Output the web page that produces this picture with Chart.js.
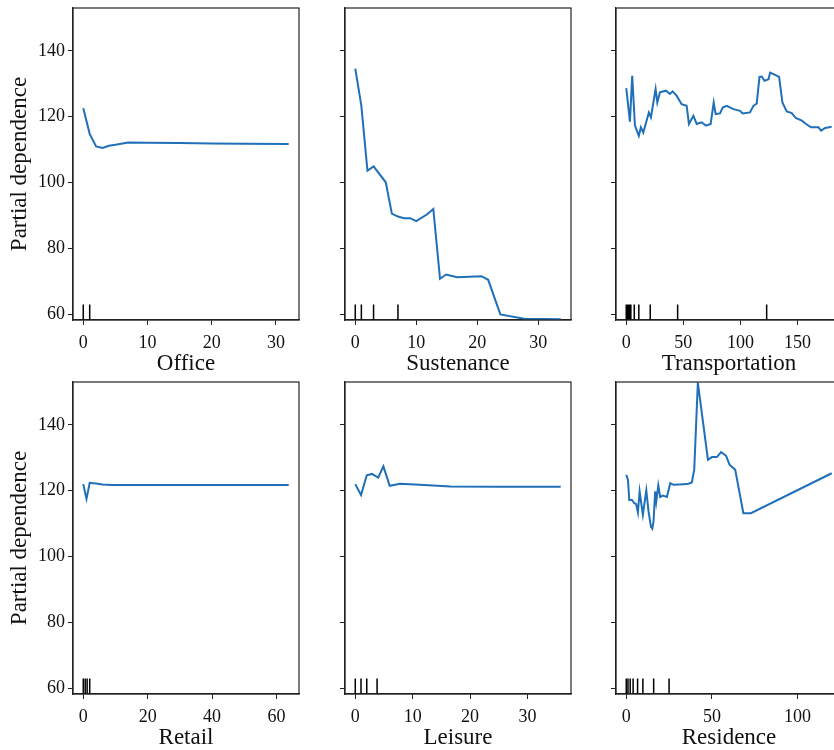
<!DOCTYPE html>
<html>
<head>
<meta charset="utf-8">
<script src="https://cdn.jsdelivr.net/npm/chart.js@4"></script>
<style>
  body { margin: 0; background: #fff; }
  #fig { position: relative; width: 834px; height: 750px; overflow: hidden; background: #fff; }
  #fig canvas { position: absolute; }
</style>
</head>
<body>
<div id="fig"></div>
<script>
// partial dependence values
const officeX = [0, 1, 2, 3, 4, 5, 7, 10, 15, 20, 25, 32];
const officeY = [122.6, 114.8, 111.0, 110.5, 111.2, 111.5, 112.2, 112.1, 112.0, 111.9, 111.8, 111.7];
const officeDeciles = [0, 1];

const sustenanceX = [0, 1, 2, 3, 5, 6, 7, 8, 9, 10, 11.8, 12.8, 13.9, 14.9, 16.7, 20.7, 21.8, 23.8, 27.7, 33.7];
const sustenanceY = [134.6, 123.3, 103.6, 104.9, 100.1, 90.6, 89.7, 89.2, 89.2, 88.3, 90.4, 92.0, 70.8, 72.1, 71.3, 71.6, 70.5, 60.0, 58.7, 58.5];
const sustenanceDeciles = [0, 1, 3, 7];

const transportX = [0, 3.2, 5.2, 7.6, 11, 12.8, 14.9, 19.8, 21.6, 25.7, 27.2, 29.5, 34.7, 38.2, 40.6, 44.1, 48.5, 52.9, 54.9, 58.8,
  61.7, 66, 69.8, 73.9, 76.6, 78.3, 82.1, 84.5, 88, 93.9, 99.6, 102, 108.4, 111.4, 114.3, 116.7, 118.7, 121.1, 124.6, 126,
  130.4, 133.9, 136.8, 140.6, 145, 148.5, 153.8, 157.5, 161.9, 168.4, 170.7, 174.2, 177.7, 180];
const transportY = [128.7, 118.5, 132.4, 117.3, 114.2, 116.8, 115.2, 121.3, 119.8, 128.4, 124.3, 127.4, 127.9, 126.9, 127.7, 126.4, 123.8, 123.3, 117.8, 120.3,
  117.8, 118.3, 117.3, 117.8, 124.3, 120.8, 121.0, 122.8, 123.3, 122.3, 121.8, 121.0, 121.3, 123.3, 124.0, 132.1, 132.2, 130.9, 131.4, 133.4,
  132.7, 132.1, 124.3, 121.6, 121.1, 119.6, 118.8, 117.8, 116.8, 116.8, 115.8, 116.6, 116.8, 117.0];
const transportDeciles = [0, 1, 2, 3, 4, 7, 11, 21, 45, 123];

const retailX = [0, 1, 2, 3, 4, 6, 9, 15, 30, 45, 63.8];
const retailY = [122.0, 117.5, 122.4, 122.3, 122.2, 121.9, 121.7, 121.7, 121.7, 121.7, 121.7];
const retailDeciles = [0, 0.6, 1.2, 2];

const leisureX = [0, 1, 2, 2.9, 4, 4.9, 6, 7.8, 12, 16.6, 25, 35.8];
const leisureY = [122.0, 118.7, 124.7, 125.1, 124.0, 127.4, 121.5, 122.1, 121.7, 121.3, 121.2, 121.2];
const leisureDeciles = [0, 1, 2, 3.8];

const residenceX = [0, 1, 1.75, 3.3, 4.7, 5.8, 6.8, 7.8, 8.75, 9.7, 10.5, 11.7, 13, 14.4, 15.2, 15.9, 16.9, 17.5, 18.7, 19.8,
  21.4, 23.7, 25.7, 27.6, 33.4, 36.3, 38.3, 39.7, 41.8, 47.7, 50, 52.9, 55.4, 58.3, 60.3, 63.6, 68.4, 72.8, 120];
const residenceY = [124.8, 123.3, 117.2, 117.2, 116.2, 115.9, 113.4, 119.8, 116.2, 112.7, 115.7, 120.1, 113.7, 109.1, 108.5, 110.6, 119.8, 116.7, 121.6, 118.1,
  118.5, 118.1, 122.3, 121.8, 122.0, 122.1, 122.5, 126.4, 152.8, 129.4, 130.2, 130.2, 131.7, 130.6, 127.9, 126.4, 113.2, 113.2, 125.3];
const residenceDeciles = [0, 1, 2.3, 4, 6.6, 9.7, 16, 25];

const yTicks = [60, 80, 100, 120, 140];
const yMin = 58.3, yMax = 153.0;

const FONT = "'Liberation Serif', 'Times New Roman', serif";
const INK = '#222';

// outline the whole axes box (Chart.js only draws left/bottom)
const boxPlugin = {
  id: 'box',
  afterDraw(chart) {
    const a = chart.chartArea, ctx = chart.ctx;
    ctx.save();
    ctx.strokeStyle = INK;
    ctx.lineWidth = 1.2;
    ctx.strokeRect(a.left, a.top, a.right - a.left, a.bottom - a.top);
    ctx.restore();
  }
};

function makePanel(p) {
  const areaW = 226, areaH = 312, xAxisH = 58;
  const canvas = document.createElement('canvas');
  canvas.width = 73 + areaW + 3;
  canvas.height = 8 + areaH + xAxisH;
  canvas.style.left = (p.left - 73) + 'px';
  canvas.style.top = (p.top - 8) + 'px';
  document.getElementById('fig').appendChild(canvas);

  const lo = Math.min(...p.xs), hi = Math.max(...p.xs);
  const pad = (hi - lo) * 0.05;

  const curve = p.xs.map((x, i) => ({ x: x, y: p.ys[i] }));
  const rugTop = yMin + 0.05 * (yMax - yMin);
  const rug = [];
  p.deciles.forEach(d => {
    rug.push({ x: d, y: yMin }, { x: d, y: rugTop }, { x: d, y: null });
  });

  new Chart(canvas, {
    type: 'line',
    data: {
      datasets: [
        { data: rug, borderColor: '#000', borderWidth: 1.5, pointRadius: 0, spanGaps: false },
        { data: curve, borderColor: '#1f70b8', borderWidth: 2, pointRadius: 0, tension: 0 }
      ]
    },
    options: {
      responsive: false,
      animation: false,
      layout: { autoPadding: false, padding: { top: 8, right: 3, left: 0, bottom: 0 } },
      plugins: { legend: { display: false }, tooltip: { enabled: false } },
      scales: {
        x: {
          type: 'linear',
          min: lo - pad,
          max: hi + pad,
          afterFit: s => { s.height = xAxisH; s.paddingLeft = 0; s.paddingRight = 0; },
          afterBuildTicks: s => { s.ticks = p.xTicks.map(v => ({ value: v })); },
          grid: { display: true, drawOnChartArea: false, drawTicks: true, tickLength: 5, color: INK },
          border: { display: true, color: INK, width: 1.2 },
          ticks: { font: { family: FONT, size: 18 }, color: '#111', padding: 7, maxRotation: 0 },
          title: { display: true, text: p.name, color: '#111', font: { family: FONT, size: 23 }, padding: { top: 0, bottom: 0 } }
        },
        y: {
          min: yMin,
          max: yMax,
          afterFit: s => { s.width = 73; s.paddingTop = 0; s.paddingBottom = 0; },
          afterBuildTicks: s => { s.ticks = yTicks.map(v => ({ value: v })); },
          grid: { display: true, drawOnChartArea: false, drawTicks: true, tickLength: 5, color: INK },
          border: { display: true, color: INK, width: 1.2 },
          ticks: { display: p.yLabels, font: { family: FONT, size: 18 }, color: '#111', padding: 3 },
          title: { display: p.yLabels, text: 'Partial dependence', color: '#111', font: { family: FONT, size: 23 }, padding: { top: 6, bottom: 0 } }
        }
      }
    },
    plugins: [boxPlugin]
  });
}

makePanel({ name: 'Office', xs: officeX, ys: officeY, deciles: officeDeciles, xTicks: [0, 10, 20, 30], yLabels: true, left: 73, top: 8 });
makePanel({ name: 'Sustenance', xs: sustenanceX, ys: sustenanceY, deciles: sustenanceDeciles, xTicks: [0, 10, 20, 30], yLabels: false, left: 345, top: 8 });
makePanel({ name: 'Transportation', xs: transportX, ys: transportY, deciles: transportDeciles, xTicks: [0, 50, 100, 150], yLabels: false, left: 616, top: 8 });
makePanel({ name: 'Retail', xs: retailX, ys: retailY, deciles: retailDeciles, xTicks: [0, 20, 40, 60], yLabels: true, left: 73, top: 382 });
makePanel({ name: 'Leisure', xs: leisureX, ys: leisureY, deciles: leisureDeciles, xTicks: [0, 10, 20, 30], yLabels: false, left: 345, top: 382 });
makePanel({ name: 'Residence', xs: residenceX, ys: residenceY, deciles: residenceDeciles, xTicks: [0, 50, 100], yLabels: false, left: 616, top: 382 });
</script>
</body>
</html>
